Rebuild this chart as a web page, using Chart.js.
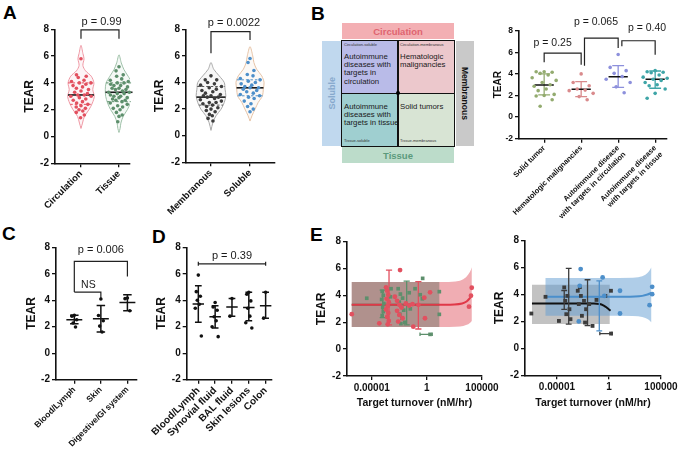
<!DOCTYPE html>
<html lang="en">
<head>
<meta charset="UTF-8">
<title>TEAR panels</title>
<script src="https://cdn.jsdelivr.net/npm/chart.js@4.4.1/dist/chart.umd.min.js"></script>
<style>
    body { margin: 0; background: #fff; }
    #fig { position: relative; width: 687px; height: 453px; overflow: hidden; font-family: 'Liberation Sans', Arial, sans-serif; }
    canvas { position: absolute; }
    .lt { position: absolute; font-weight: bold; font-size: 19px; line-height: 19px; color: #000; }
    .bx { position: absolute; box-sizing: border-box; display: flex; align-items: center; justify-content: center; font-weight: bold; }
    .q { position: absolute; box-sizing: border-box; color: #1a1a1a; }
    .q .s { position: absolute; left: 2px; font-size: 4px; line-height: 4px; color: #333; white-space: nowrap; }
    .q .m { position: absolute; left: 2px; font-size: 7.8px; line-height: 8.2px; white-space: nowrap; }
</style>
</head>
<body>
<div id="fig">
    <!-- panel letters -->
    <div class="lt" style="left:3px;top:3px">A</div>
    <div class="lt" style="left:311px;top:4px">B</div>
    <div class="lt" style="left:2px;top:224px">C</div>
    <div class="lt" style="left:152px;top:227px">D</div>
    <div class="lt" style="left:310px;top:225px">E</div>

    <!-- B: schematic -->
    <div class="bx" style="left:342px;top:23px;width:112px;height:16px;background:#f3afb3;color:#e0646f;font-size:9.5px">Circulation</div>
    <div class="bx" style="left:322px;top:41px;width:20px;height:105px;background:#c0d8ee;color:#86a8cc;font-size:9px">
        <span style="writing-mode:vertical-rl;transform:rotate(180deg)">Soluble</span>
    </div>
    <div class="bx" style="left:456px;top:41px;width:18px;height:105px;background:#c9c9c9;color:#111;font-size:8.5px">
        <span style="writing-mode:vertical-rl">Membranous</span>
    </div>
    <div class="bx" style="left:342px;top:147px;width:112px;height:16px;background:#bcdcca;color:#5b9a7c;font-size:9.5px">Tissue</div>

    <div class="q" style="left:342px;top:41px;width:56px;height:52px;background:#b9bbe8">
        <div class="s" style="top:2px">Circulation-soluble</div>
        <div class="m" style="top:12px">Autoimmune<br>diseases with<br>targets in<br>circulation</div>
    </div>
    <div class="q" style="left:398px;top:41px;width:56px;height:52px;background:#ecc8cc">
        <div class="s" style="top:2px">Circulation-membranous</div>
        <div class="m" style="top:12px">Hematologic<br>malignancies</div>
    </div>
    <div class="q" style="left:342px;top:93px;width:56px;height:53px;background:#9fcfd0">
        <div class="m" style="top:10px">Autoimmune<br>diseases with<br>targets in tissue</div>
        <div class="s" style="top:46px">Tissue-soluble</div>
    </div>
    <div class="q" style="left:398px;top:93px;width:56px;height:53px;background:#d8e4d4">
        <div class="m" style="top:10px">Solid tumors</div>
        <div class="s" style="top:46px">Tissue-membranous</div>
    </div>
    <div style="position:absolute;left:341px;top:40px;width:114px;height:107px;border:1.6px solid #111;box-sizing:border-box"></div>
    <div style="position:absolute;left:397px;top:40px;width:1.6px;height:107px;background:#111"></div>
    <div style="position:absolute;left:341px;top:92.5px;width:114px;height:1.6px;background:#111"></div>
    <div style="position:absolute;left:395.8px;top:91.3px;width:4px;height:4px;border-radius:2px;background:#000"></div>

    <canvas id="cA1"></canvas>
    <canvas id="cA2"></canvas>
    <canvas id="cB"></canvas>
    <canvas id="cC"></canvas>
    <canvas id="cD"></canvas>
    <canvas id="cE1"></canvas>
    <canvas id="cE2"></canvas>
</div>

<script>
    //------------------------------------------ data ------------------------------------------

    // A: violin outlines (TEAR level, half width in category units), quartiles, points
    var aCats1 = ['Circulation', 'Tissue'];
    var aCats2 = ['Membranous', 'Soluble'];

    var circViolinY = [0.6, 1.0, 1.5, 2.0, 2.5, 3.0, 3.5, 4.0, 4.5, 4.9, 5.3, 5.8, 6.2, 6.8];
    var circViolinW = [0, 0.04, 0.09, 0.21, 0.30, 0.35, 0.31, 0.34, 0.27, 0.12, 0.05, 0.08, 0.05, 0];
    var tisViolinY = [0.3, 0.6, 1.0, 1.5, 2.0, 2.5, 3.0, 3.5, 4.0, 4.5, 5.0, 5.5, 6.1];
    var tisViolinW = [0, 0.03, 0.05, 0.11, 0.22, 0.30, 0.35, 0.36, 0.34, 0.24, 0.13, 0.06, 0];
    var memViolinY = [0.4, 1.0, 1.5, 2.0, 2.5, 3.0, 3.5, 4.0, 4.5, 5.0, 5.5];
    var memViolinW = [0, 0.05, 0.13, 0.26, 0.34, 0.38, 0.36, 0.34, 0.21, 0.07, 0];
    var solViolinY = [1.1, 1.5, 2.0, 2.5, 3.0, 3.5, 4.0, 4.5, 5.0, 5.5, 6.0, 6.7];
    var solViolinW = [0, 0.05, 0.13, 0.21, 0.32, 0.34, 0.36, 0.30, 0.17, 0.10, 0.07, 0];

    var circQuart = [2.4, 3.1, 4.0];
    var tisQuart = [2.6, 3.3, 4.0];
    var memQuart = [2.3, 2.9, 3.7];
    var solQuart = [3.0, 3.6, 4.2];

    var circPts = [5.8, 4.6, 4.5, 4.4, 4.2, 4.1, 4.0, 4.0, 3.9, 3.8, 3.7, 3.6, 3.5, 3.4, 3.3, 3.2, 3.1, 3.1, 3.0, 3.0, 2.9, 2.8, 2.7, 2.6, 2.5, 2.4, 2.3, 2.2, 2.1, 2.0, 1.9, 1.8, 1.6, 1.4];
    var tisPts = [5.2, 4.9, 4.6, 4.5, 4.3, 4.2, 4.1, 4.0, 4.0, 3.9, 3.8, 3.8, 3.7, 3.6, 3.6, 3.5, 3.5, 3.4, 3.3, 3.3, 3.2, 3.2, 3.1, 3.0, 3.0, 2.9, 2.9, 2.8, 2.7, 2.7, 2.6, 2.5, 2.4, 2.3, 2.2, 2.1, 2.0, 1.8, 1.6, 1.5, 1.1];
    var memPts = [4.5, 4.2, 4.2, 4.0, 3.9, 3.8, 3.7, 3.6, 3.5, 3.4, 3.3, 3.2, 3.1, 3.0, 3.0, 2.9, 2.9, 2.8, 2.7, 2.6, 2.5, 2.5, 2.4, 2.3, 2.2, 2.1, 2.0, 1.9, 1.8, 1.6, 1.5, 1.3, 1.1];
    var solPts = [5.8, 5.5, 4.9, 4.6, 4.5, 4.3, 4.2, 4.1, 4.0, 3.9, 3.8, 3.7, 3.6, 3.6, 3.5, 3.4, 3.3, 3.2, 3.1, 3.0, 2.9, 2.8, 2.6, 2.4, 2.2, 2.0, 1.8];

    var aPvals = ['p = 0.99', 'p = 0.0022'];

    // B: indication groups
    var bCats = ['Solid tumor', 'Hematologic malignancies', ['Autoimmune disease', 'with targets in circulation'], ['Autoimmune disease', 'with targets in tissue']];
    var bPts = [
        [4.2, 4.2, 4.15, 4.05, 3.9, 3.65, 3.4, 3.2, 3.0, 2.85, 2.6, 2.45, 2.1, 2.0, 1.95, 1.6, 1.0],
        [4.0, 3.2, 2.9, 2.6, 2.5, 2.45, 2.2, 1.9, 1.6],
        [5.8, 4.6, 4.3, 4.05, 3.75, 3.5, 3.2, 2.8, 2.25],
        [4.3, 4.2, 4.15, 4.1, 3.9, 3.7, 3.6, 3.5, 3.4, 3.2, 3.0, 2.9, 2.6, 2.2, 1.75]
    ];
    var bMean = [2.97, 2.57, 3.74, 3.5];
    var bSdLo = [2.05, 1.89, 2.76, 2.67];
    var bSdHi = [4.0, 3.28, 4.76, 4.27];
    var bPvals = ['p = 0.25', 'p = 0.065', 'p = 0.40'];

    // C: tissue site
    var cCats = ['Blood/Lymph', 'Skin', 'Digestive/GI system'];
    var cPts = [[2.86, 2.8, 2.53, 2.28, 1.98], [4.1, 2.85, 2.45, 2.05, 1.6], [4.17, 4.12, 3.21]];
    var cMean = [2.53, 2.6, 3.84];
    var cSdLo = [2.23, 1.6, 3.21];
    var cSdHi = [2.86, 3.6, 4.42];
    var cPvals = ['p = 0.006', 'NS'];

    // D: sampling fluid
    var dCats = ['Blood/Lymph', 'Synovial fluid', 'BAL fluid', 'Skin lesions', 'Colon'];
    var dPts = [[5.9, 4.65, 4.3, 4.0, 3.7, 3.4, 1.3], [3.83, 3.5, 3.25, 2.75, 2.45, 2.0, 1.25], [4.13, 2.8], [4.6, 4.45, 3.95, 3.4, 2.8, 2.3, 1.9], [4.6, 2.65]];
    var dMean = [3.72, 2.75, 3.5, 3.45, 3.58];
    var dSdLo = [2.33, 1.9, 2.8, 2.45, 2.65];
    var dSdHi = [5.1, 3.58, 4.13, 4.6, 4.6];
    var dPvals = ['p = 0.39'];

    // E: [log10 target turnover (nM/hr), TEAR]
    var eTicks = [1e-5, 1, 1e5];
    var eTickLabels = ['0.00001', '1', '100000'];

    var e1Circ = [[-6.81, 2.6], [-4.31, 1.92], [-3.7, 4.6], [-3.6, 4.35], [-3.5, 4.05], [-3.65, 3.75], [-3.45, 3.5], [-3.55, 3.2], [-3.7, 2.95], [-3.5, 2.7], [-3.6, 2.4], [-3.45, 2.1], [-3.55, 1.85], [-2.43, 5.89], [-2.9, 3.9], [-2.7, 3.6], [-2.5, 3.3], [-2.3, 3.1], [-2.7, 2.85], [-2.5, 2.55], [-2.2, 2.3], [-2.6, 2.05], [-1.9, 3.4], [-1.6, 3.25], [-1.3, 3.35], [-1.23, 1.67], [-0.77, 3.3], [-0.23, 3.83], [0.29, 4.23], [-0.17, 2.3], [4.07, 4.57], [4.0, 3.98], [3.82, 3.16]];
    var e1Tis = [[-5.45, 3.79], [-4.05, 4.3], [-3.95, 4.0], [-4.1, 3.7], [-3.9, 3.4], [-4.0, 3.1], [-3.95, 2.8], [-4.05, 2.5], [-3.25, 4.5], [-3.3, 3.9], [-2.6, 4.5], [-2.4, 4.1], [-2.2, 3.8], [-2.5, 3.5], [-2.3, 3.2], [-2.1, 2.9], [-2.45, 2.6], [-2.25, 2.3], [-2.0, 2.0], [-2.35, 1.9], [-1.6, 4.2], [-1.5, 3.0], [-1.07, 4.5], [-0.6, 4.05], [-0.41, 3.75], [-0.38, 5.27], [1.13, 4.28], [1.13, 2.59], [0.29, 1.1]];
    var e1CircErr = [[-3.43, 1.8, 5.89], [-0.77, 1.5, 5.02]];      // [log x, low, high]
    var e1TisErr = [[-1.83, 1.8, 5.07], [-4.0, 2.35, 4.4]];
    var e1TisHErr = [[1.1, -0.62, 0.49]];                          // [y, log low, log high]
    var e1CircBandX = [-6.81, -3, 0, 2, 2.6, 3.0, 3.3, 3.55, 3.75, 3.9, 4.0, 4.07];
    var e1CircBandHi = [5.0, 5.0, 5.0, 5.0, 5.03, 5.1, 5.2, 5.35, 5.55, 5.75, 5.92, 6.1];
    var e1CircBandLo = [1.65, 1.65, 1.65, 1.65, 1.66, 1.69, 1.73, 1.79, 1.86, 1.95, 2.02, 2.1];
    var e1CircFitX = [-6.81, 1.5, 2.5, 3.2, 3.6, 3.9, 4.07];
    var e1CircFitY = [3.3, 3.3, 3.32, 3.4, 3.55, 3.8, 4.05];
    var e1TisBandX = [-6.81, 1.13];
    var e1TisBandHi = [5.0, 5.0];
    var e1TisBandLo = [1.65, 1.65];
    var e1TisFitY = [3.3, 3.3];

    var e2Mem = [[-7.46, 2.59], [-6.1, 3.83], [-4.81, 2.04], [-4.3, 4.53], [-4.0, 3.9], [-4.2, 3.53], [-3.8, 2.91], [-4.1, 2.54], [-3.7, 2.17], [-3.0, 4.28], [-2.7, 3.9], [-2.4, 3.53], [-2.9, 3.29], [-2.2, 2.91], [-2.6, 2.42], [-2.3, 1.92], [-1.9, 3.29], [-1.58, 1.67], [-0.35, 3.9], [0.19, 4.28], [0.2, 1.1], [-1.2, 3.6], [-2.8, 4.55]];
    var e2Sol = [[-2.72, 5.89], [-2.81, 4.65], [-0.61, 5.27], [-0.45, 3.9], [1.06, 4.28], [1.06, 2.59], [4.15, 4.57], [4.15, 4.03], [3.9, 3.21], [-2.9, 2.0]];
    var e2MemErr = [[-3.87, 1.8, 5.94], [-2.06, 1.7, 5.1], [-4.3, 2.9, 4.3]];
    var e2MemHErr = [[1.1, -0.88, 0.28]];
    var e2SolErr = [[-0.93, 1.3, 5.02]];
    var e2MemBandX = [-7.4, 0.07];
    var e2MemBandHi = [4.73, 4.73];
    var e2MemBandLo = [1.82, 1.82];
    var e2MemFitX = [-7.4, -1.5, -0.9, -0.5, -0.2, 0.15];
    var e2MemFitY = [3.33, 3.33, 3.3, 3.18, 3.02, 2.8];
    var e2SolBandX = [-6.1, -2, 1, 2.3, 2.8, 3.2, 3.5, 3.7, 3.85, 3.97, 4.06];
    var e2SolBandHi = [5.22, 5.22, 5.22, 5.24, 5.28, 5.36, 5.47, 5.6, 5.73, 5.87, 6.0];
    var e2SolBandLo = [2.42, 2.42, 2.42, 2.41, 2.38, 2.33, 2.26, 2.18, 2.1, 2.02, 1.95];
    var e2SolFitX = [-6.1, 1.5, 2.5, 3.2, 3.7, 4.06];
    var e2SolFitY = [3.83, 3.83, 3.85, 3.9, 4.0, 4.12];

    //------------------------------------------ helpers ------------------------------------------

    var FONT = "'Liberation Sans', Arial, sans-serif";
    Chart.defaults.font.family = FONT;
    Chart.defaults.color = '#111';

    var spread = [0, -0.6, 0.6, -0.3, 0.3, -0.9, 0.9, -0.15, 0.45, -0.75, 0.15, -0.45, 0.75];

    function notesPlugin(items) {
        return {
            id: 'notes',
            afterDatasetsDraw: function (chart) {
                var ctx = chart.ctx, xs = chart.scales.x, ys = chart.scales.y;
                items.forEach(function (n) {
                    ctx.save();
                    ctx.font = (n.size || 11) + 'px ' + FONT;
                    ctx.fillStyle = '#1a1a1a';
                    ctx.textAlign = 'center';
                    ctx.textBaseline = 'middle';
                    ctx.fillText(n.t, xs.getPixelForValue(n.x), ys.getPixelForValue(n.y));
                    ctx.restore();
                });
            }
        };
    }

    function interp(ys, ws, v) {
        if (v <= ys[0]) return ws[0];
        for (var i = 1; i < ys.length; i++) {
            if (v <= ys[i]) {
                var t = (v - ys[i - 1]) / (ys[i] - ys[i - 1]);
                return ws[i - 1] + t * (ws[i] - ws[i - 1]);
            }
        }
        return ws[ws.length - 1];
    }

    function ptsDs(data, color, r, style) {
        return {type: 'scatter', data: data, backgroundColor: color, borderColor: color, borderWidth: 0,
            pointRadius: r, pointStyle: style || 'circle', order: 0, clip: false};
    }

    function lineDs(data, color, w, dash, tension, order) {
        return {type: 'line', data: data, borderColor: color, borderWidth: w, borderDash: dash || [],
            pointRadius: 0, fill: false, tension: tension || 0, order: order === undefined ? 1 : order, clip: false};
    }

    function polyline(flat) {
        var d = [];
        for (var i = 0; i < flat.length; i += 2) d.push({x: flat[i], y: flat[i + 1]});
        return d;
    }

    function joinParts(parts) {
        var d = [];
        parts.forEach(function (p) { d = d.concat(p); d.push({x: null, y: null}); });
        return d;
    }

    function violin(c, ys, ws, stroke, fillC) {
        var d = [];
        for (var i = 0; i < ys.length; i++) d.push({x: c + ws[i], y: ys[i]});
        for (var j = ys.length - 2; j > 0; j--) d.push({x: c - ws[j], y: ys[j]});
        d.push({x: c, y: ys[0]});
        return {type: 'line', data: d, borderColor: stroke, borderWidth: 1, backgroundColor: fillC,
            fill: 'shape', tension: 0.3, pointRadius: 0, order: 3};
    }

    function quartLines(c, ys, ws, q, color) {
        var d = [];
        [q[0], q[2]].forEach(function (v) {
            var w = interp(ys, ws, v);
            d.push({x: c - w, y: v}, {x: c + w, y: v}, {x: null, y: null});
        });
        return lineDs(d, color, 1, [2.5, 2]);
    }

    function medLine(c, ys, ws, q) {
        var w = interp(ys, ws, q[1]);
        return lineDs([{x: c - w, y: q[1]}, {x: c + w, y: q[1]}], '#1a1a1a', 1.6);
    }

    function violinPts(c, ys, ws, vals, color) {
        return ptsDs(vals.map(function (v, i) {
            return {x: c + interp(ys, ws, v) * 0.85 * spread[i % spread.length], y: v};
        }), color, 1.8);
    }

    function groupPts(groups, k, color, r) {
        var d = [];
        groups.forEach(function (g, c) {
            g.forEach(function (v, i) { d.push({x: c + k * spread[i % spread.length], y: v}); });
        });
        return ptsDs(d, color, r);
    }

    function sdSegs(idx, lo, hi, cHalf) {
        return [
            {x: idx, y: lo}, {x: idx, y: hi}, {x: null, y: null},
            {x: idx - cHalf, y: lo}, {x: idx + cHalf, y: lo}, {x: null, y: null},
            {x: idx - cHalf, y: hi}, {x: idx + cHalf, y: hi}, {x: null, y: null}
        ];
    }

    function meanSegs(idx, m, mHalf) {
        return [{x: idx - mHalf, y: m}, {x: idx + mHalf, y: m}, {x: null, y: null}];
    }

    function meanSdDs(means, lo, hi, mHalf, cHalf, color, w) {
        var d = [];
        for (var i = 0; i < means.length; i++) {
            d = d.concat(meanSegs(i, means[i], mHalf), sdSegs(i, lo[i], hi[i], cHalf));
        }
        return lineDs(d, color, w);
    }

    function lx(v) { return Math.pow(10, v); }

    function logPts(pairs, color, style, r) {
        return ptsDs(pairs.map(function (p) { return {x: lx(p[0]), y: p[1]}; }), color, r, style);
    }

    function logBand(xs, hi, lo, color, order) {
        var d = xs.map(function (x, i) { return {x: lx(x), y: hi[i]}; });
        for (var i = xs.length - 1; i >= 0; i--) d.push({x: lx(xs[i]), y: lo[i]});
        d.push({x: lx(xs[0]), y: hi[0]});
        return {type: 'line', data: d, borderWidth: 0, borderColor: 'rgba(0,0,0,0)', backgroundColor: color,
            fill: 'shape', tension: 0, pointRadius: 0, order: order};
    }

    function logLine(xs, ys, color, w, tension) {
        return lineDs(xs.map(function (x, i) { return {x: lx(x), y: ys[i]}; }), color, w, [], tension, 2);
    }

    function logVErr(list, color) {
        var d = [], k = Math.pow(10, 0.28);
        list.forEach(function (e) {
            var x = lx(e[0]);
            d.push({x: x, y: e[1]}, {x: x, y: e[2]}, {x: null, y: null});
            d.push({x: x / k, y: e[1]}, {x: x * k, y: e[1]}, {x: null, y: null});
            d.push({x: x / k, y: e[2]}, {x: x * k, y: e[2]}, {x: null, y: null});
        });
        return lineDs(d, color, 1.3);
    }

    function logHErr(list, color) {
        var d = [];
        list.forEach(function (e) {
            d.push({x: lx(e[1]), y: e[0]}, {x: lx(e[2]), y: e[0]}, {x: null, y: null});
            d.push({x: lx(e[1]), y: e[0] - 0.13}, {x: lx(e[1]), y: e[0] + 0.13}, {x: null, y: null});
            d.push({x: lx(e[2]), y: e[0] - 0.13}, {x: lx(e[2]), y: e[0] + 0.13}, {x: null, y: null});
        });
        return lineDs(d, color, 1.3);
    }

    var axisGrid = {display: true, drawOnChartArea: false, drawTicks: true, tickLength: 4, color: '#111', lineWidth: 1.3};
    var axisBorder = {display: true, color: '#111', width: 1.6};

    function yTear(tickSize, titleSize) {
        return {
            type: 'linear', min: -2, max: 8,
            ticks: {stepSize: 2, font: {size: tickSize, weight: 'bold'}, color: '#111', padding: 2},
            grid: axisGrid, border: axisBorder,
            title: {display: true, text: 'TEAR', color: '#111', padding: 0,
                font: {size: titleSize, weight: 'bold', lineHeight: 1.2}}
        };
    }

    function xCats(cats, min, max, size) {
        return {
            type: 'linear', min: min, max: max,
            afterBuildTicks: function (s) { s.ticks = cats.map(function (c, i) { return {value: i}; }); },
            ticks: {callback: function (v) { return cats[v]; }, autoSkip: false, minRotation: 45, maxRotation: 45,
                font: {size: size, weight: 'bold'}, color: '#111', padding: 1},
            grid: axisGrid, border: axisBorder
        };
    }

    function xLog(min, max) {
        return {
            type: 'logarithmic', min: min, max: max,
            afterBuildTicks: function (s) { s.ticks = eTicks.map(function (v) { return {value: v}; }); },
            ticks: {callback: function (v, i) { return eTickLabels[i]; }, autoSkip: false, minRotation: 0, maxRotation: 0,
                font: {size: 10, weight: 'bold'}, color: '#111', padding: 2},
            grid: axisGrid, border: axisBorder,
            title: {display: true, text: 'Target turnover (nM/hr)', color: '#111', padding: 0,
                font: {size: 10.5, weight: 'bold', lineHeight: 1.2}}
        };
    }

    // cv = canvas [left, top, w, h]; area = plot box [L, T, R, B]; yl = left edge of y box; xb = bottom of x box
    function makeChart(id, cv, area, yl, xb, xScale, yScale, datasets, notes) {
        var cnv = document.getElementById(id);
        cnv.width = cv[2];
        cnv.height = cv[3];
        cnv.style.left = cv[0] + 'px';
        cnv.style.top = cv[1] + 'px';
        if (xb === null) xb = cv[1] + cv[3];
        var pad = {left: yl - cv[0], top: area[1] - cv[1], right: cv[0] + cv[2] - area[2], bottom: cv[1] + cv[3] - xb};
        var yw = area[0] - yl, xh = xb - area[3];
        xScale.afterFit = function (s) { s.height = xh; s.paddingLeft = 0; s.paddingRight = 0; };
        yScale.afterFit = function (s) { s.width = yw; s.paddingTop = 0; s.paddingBottom = 0; };
        return new Chart(cnv, {
            type: 'scatter',
            data: {datasets: datasets},
            options: {
                responsive: false, animation: false, events: [],
                layout: {padding: pad},
                scales: {x: xScale, y: yScale},
                plugins: {legend: {display: false}, tooltip: {enabled: false}}
            },
            plugins: [notesPlugin(notes || [])]
        });
    }

    //------------------------------------------ charts ------------------------------------------

    var RED = '#e2505f', GREEN = '#5d8f6c', GREY = '#3c3c3c', BLUE = '#4d8fca';

    // A left: circulation vs tissue
    makeChart('cA1', [0, 0, 160, 232], [55, 29.3, 130, 163.3], 22.8, null,
        xCats(aCats1, -0.684, 1.29, 9.5), yTear(10, 12), [
            violinPts(0, circViolinY, circViolinW, circPts, RED),
            violinPts(1, tisViolinY, tisViolinW, tisPts, GREEN),
            medLine(0, circViolinY, circViolinW, circQuart),
            medLine(1, tisViolinY, tisViolinW, tisQuart),
            quartLines(0, circViolinY, circViolinW, circQuart, RED),
            quartLines(1, tisViolinY, tisViolinW, tisQuart, GREEN),
            lineDs(polyline([0, 7.3, 0, 7.95, 1, 7.95, 1, 7.3]), '#222', 1.2),
            violin(0, circViolinY, circViolinW, '#ef97a3', 'rgba(239,151,163,0.10)'),
            violin(1, tisViolinY, tisViolinW, '#9fc1a9', 'rgba(159,193,169,0.10)')
        ], [{x: 0.54, y: 8.57, t: aPvals[0]}]);

    // A right: membranous vs soluble
    makeChart('cA2', [140, 0, 170, 232], [186, 29.3, 275, 162.3], 152.8, null,
        xCats(aCats2, -0.64, 1.64, 9.5), yTear(10, 12), [
            violinPts(0, memViolinY, memViolinW, memPts, GREY),
            violinPts(1, solViolinY, solViolinW, solPts, BLUE),
            medLine(0, memViolinY, memViolinW, memQuart),
            medLine(1, solViolinY, solViolinW, solQuart),
            quartLines(0, memViolinY, memViolinW, memQuart, '#555'),
            quartLines(1, solViolinY, solViolinW, solQuart, BLUE),
            lineDs(polyline([0, 6.2, 0, 7.82, 1, 7.82, 1, 7.2]), '#222', 1.2),
            violin(0, memViolinY, memViolinW, '#a8a8a8', 'rgba(168,168,168,0.10)'),
            violin(1, solViolinY, solViolinW, '#e6c3a6', 'rgba(230,195,166,0.10)')
        ], [{x: 0.59, y: 8.5, t: aPvals[1]}]);

    // B right: indications
    var bColors = ['#93ab6f', '#d98a8c', '#8d90dc', '#3ea5a7'];
    var bSets = [];
    bPts.forEach(function (g, c) {
        var only = bPts.map(function (h, k) { return k === c ? h : []; });
        bSets.push(groupPts(only, 0.36, bColors[c], 1.8));
    });
    bSets.push(lineDs(joinParts(bMean.map(function (m, i) { return meanSegs(i, m, 0.26); })), '#111', 1.5));
    bMean.forEach(function (m, i) {
        bSets.push(lineDs(sdSegs(i, bSdLo[i], bSdHi[i], 0.16), bColors[i], 1.3));
    });
    bSets.push(lineDs(joinParts([
        polyline([0, 5.07, 0, 5.93, 1, 5.93, 1, 4.85]),
        polyline([1.09, 4.76, 1.09, 7.32, 2, 7.32, 2, 6.4]),
        polyline([2.1, 6.55, 2.1, 7.07, 3, 7.07, 3, 5.78])
    ]), '#222', 1.2));
    makeChart('cB', [470, 0, 217, 240], [519, 30.7, 667, 138.7], 492.3, null,
        xCats(bCats, -0.68, 3.32, 7.5), yTear(8.5, 10), bSets, [
            {x: 0.23, y: 6.86, t: bPvals[0], size: 10.5},
            {x: 1.4, y: 8.77, t: bPvals[1], size: 10.5},
            {x: 2.78, y: 8.25, t: bPvals[2], size: 10.5}
        ]);

    // C
    makeChart('cC', [0, 230, 165, 223], [56, 247.3, 136.7, 379.7], 24.5, null,
        xCats(cCats, -0.69, 2.35, 8.5), yTear(10, 12), [
            groupPts(cPts, 0.15, '#111', 1.8),
            meanSdDs(cMean, cSdLo, cSdHi, 0.3, 0.16, '#111', 1.5),
            lineDs(joinParts([
                polyline([0, 4.62, 0, 6.94, 2, 6.94, 2, 5.8]),
                polyline([0, 4.62, 1, 4.62, 1, 4.17])
            ]), '#222', 1.2)
        ], [{x: 1.0, y: 7.82, t: cPvals[0]}, {x: 0.53, y: 5.14, t: cPvals[1], size: 10.5}]);

    // D
    makeChart('cD', [130, 230, 165, 223], [186.7, 247.3, 271.7, 379.7], 154.5, null,
        xCats(dCats, -0.69, 4.36, 10), yTear(10, 12), [
            groupPts(dPts, 0.2, '#111', 1.8),
            meanSdDs(dMean, dSdLo, dSdHi, 0.34, 0.2, '#111', 1.5),
            lineDs(joinParts([
                polyline([0, 6.75, 4, 6.75]),
                polyline([0, 6.6, 0, 6.9]),
                polyline([4, 6.6, 4, 6.9])
            ]), '#222', 1.2)
        ], [{x: 2, y: 7.35, t: dPvals[0]}]);

    // E left: circulation vs tissue
    makeChart('cE1', [295, 225, 212, 190], [347, 241.7, 482, 376], 314.5, 409.3,
        xLog(lx(-7.24), 1e5), yTear(10, 12), [
            logPts(e1Circ, RED, 'circle', 2.4),
            logPts(e1Tis, GREEN, 'rect', 2.6),
            logVErr(e1CircErr, RED),
            logVErr(e1TisErr, GREEN),
            logHErr(e1TisHErr, GREEN),
            logLine(e1CircFitX, e1CircFitY, '#e03848', 2, 0.35),
            logLine(e1TisBandX, e1TisFitY, '#4f8060', 2, 0),
            logBand(e1TisBandX, e1TisBandHi, e1TisBandLo, 'rgba(70,100,78,0.38)', 4),
            logBand(e1CircBandX, e1CircBandHi, e1CircBandLo, 'rgba(226,92,104,0.5)', 5)
        ]);

    // E right: membranous vs soluble
    makeChart('cE2', [480, 225, 207, 190], [525, 240.7, 661, 375.3], 492.1, 409.3,
        xLog(lx(-8.07), 1e5), yTear(10, 12), [
            logPts(e2Sol, BLUE, 'circle', 2.4),
            logPts(e2Mem, GREY, 'rect', 2.7),
            logVErr(e2MemErr, GREY),
            logVErr(e2SolErr, BLUE),
            logHErr(e2MemHErr, GREY),
            logLine(e2SolFitX, e2SolFitY, '#4a8fcc', 2, 0.35),
            logLine(e2MemFitX, e2MemFitY, '#111', 2, 0.35),
            logBand(e2SolBandX, e2SolBandHi, e2SolBandLo, 'rgba(95,155,210,0.5)', 4),
            logBand(e2MemBandX, e2MemBandHi, e2MemBandLo, 'rgba(120,120,120,0.45)', 5)
        ]);
</script>
</body>
</html>
